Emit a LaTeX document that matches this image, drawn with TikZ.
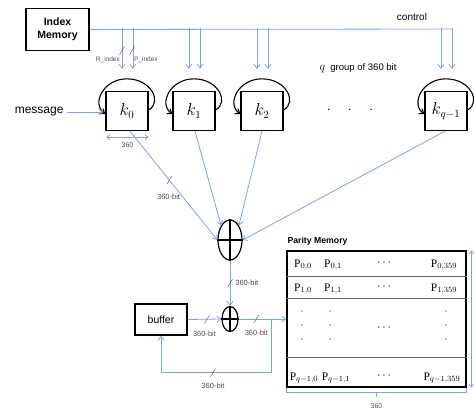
\documentclass[tikz,border=0pt]{standalone}
\usepackage{amsmath}
\usepackage{fontspec}
\setmainfont{Liberation Sans}
\newfontfamily\pfont{Liberation Serif}
\usetikzlibrary{shapes.geometric, arrows.meta, positioning, calc}
\definecolor{lineblue}{RGB}{125,165,220}
\definecolor{lblgray}{RGB}{85,72,92}

\begin{document}
\begin{tikzpicture}[x=1pt, y=-1pt,
  reg/.style={draw, line width=1.3pt, minimum width=42pt, minimum height=39pt, inner sep=0pt, font=\fontsize{16}{16}\selectfont},
  bus/.style={lineblue, thick, -{Straight Barb[length=4pt,width=6pt]}},
  loop/.style={line width=1.1pt, -{Straight Barb[length=4pt,width=6pt]}},
  lbl/.style={lblgray, font=\fontsize{7.5}{8}\selectfont, inner sep=0pt},
  xorgate/.style={draw, ellipse, line width=1.2pt, inner sep=0pt},
  rowline/.style={gray!80!black, line width=0.9pt},
  pcell/.style={font=\fontsize{11.5}{12}\selectfont, inner sep=1pt},
  busmark/.pic={\draw[lblgray, thin, -] (-2.5,4) -- (2.5,-4);}
]
\useasboundingbox (0,0) rectangle (474,412);

% Index memory and control bus
\node[draw, line width=1.3pt, minimum width=63pt, minimum height=42pt, align=center,
  font=\bfseries\fontsize{10.5}{13}\selectfont] (idx) at (57.5,29.5) {Index\\Memory};
\coordinate (ctrlend) at (453,29);
\draw[lineblue, thick] (idx.east) -- (ctrlend);
\node[font=\fontsize{10}{10}\selectfont] at (412,17) {control};

% Registers
\node[reg] (k0) at (127,111) {$k_0$};
\node[reg] (k1) at (194,111) {$k_1$};
\node[reg] (k2) at (262,111) {$k_2$};
\node[reg] (kq) at (446,111) {$k_{q-1}$};
\node[font=\fontsize{14}{14}\selectfont] at (350,110) {$\cdot\quad\cdot\quad\cdot$};
\node[font=\fontsize{9.5}{10}\selectfont] at (358,68) {{\fontsize{13}{13}\selectfont$q$}\ \ group of 360 bit};

\foreach \reg in {k0,k1,k2,kq} {
  \draw[loop] ($(\reg.east)+(0,-1)$) .. controls +(14,-8) and +(24,0) .. ($(\reg.north)+(0,-12)$)
    .. controls +(-24,0) and +(-14,-10) .. ($(\reg.west)+(0,3)$);
  \draw[bus] ($(\reg.north)+(-5,-63)$) -- ($(\reg.north)+(-5,-22)$);
  \draw[bus] ($(\reg.north)+(6,-63)$) -- ($(\reg.north)+(6,-22)$);
}

% index lines
\draw[lblgray] (119.5,55) -- (124.5,46);
\draw[lblgray] (129.5,55) -- (134.5,46);
\node[lbl, font=\fontsize{6.5}{7}\selectfont, anchor=east] at (120,60) {R\_index};
\node[lbl, font=\fontsize{6.5}{7}\selectfont, anchor=west] at (134,60) {P\_index};

% message input
\node[font=\fontsize{12}{12}\selectfont, anchor=east] (msg) at (67,112) {message};
\draw[bus] (msg.east) -- ($(k0.west)+(-2,1)$);

\coordinate (w0) at ($(k0.south west)+(1,6)$);
\coordinate (w1) at ($(k0.south east)+(0,6)$);
\draw[lineblue, thick, {Straight Barb[length=3pt,width=5pt]}-{Straight Barb[length=3pt,width=5pt]}] (w0) -- (w1);
\node[lbl, font=\fontsize{7}{7}\selectfont] at ($(w0)!0.5!(w1)+(0,8)$) {360};

% First XOR
\node[xorgate, minimum width=24pt, minimum height=40pt] (xorA) at (230,240) {};
\draw[line width=1.2pt] (xorA.north) -- (xorA.south) (xorA.west) -- (xorA.east);
\draw[bus] ($(k0.south)+(3,0)$) -- (xorA.west) pic[pos=0.45]{busmark}
  node[lbl, pos=0.6, left=2pt] {360-bit};
\draw[bus] ($(k1.south)+(1,0)$) -- (xorA.north west);
\draw[bus] (k2.south) -- (xorA.north east);
\draw[bus] ($(kq.south)+(-1,0)$) -- (xorA.east);

% Second XOR and buffer
\node[xorgate, minimum width=16pt, minimum height=25pt] (xorB) at (230,319) {};
\draw[line width=1.2pt] (xorB.north) -- (xorB.south) (xorB.west) -- (xorB.east);
\node[draw, line width=1.3pt, minimum width=52pt, minimum height=31pt,
  font=\fontsize{10.5}{11}\selectfont] (buffer) at (161,319.5) {buffer};
\draw[bus] (xorA.south) -- (xorB.north) pic[pos=0.5]{busmark}
  node[lbl, pos=0.5, right=5pt] {360-bit};
\draw[bus] (buffer.east) -- (xorB.west) pic[pos=0.57]{busmark}
  node[lbl, pos=0.5, below=11pt] {360-bit};

% Parity memory
\node[draw, line width=1.3pt, minimum width=179pt, minimum height=136pt, inner sep=0pt] (pm) at (376.5,319) {};
\node[font=\bfseries\fontsize{8.7}{9}\selectfont, anchor=south west, inner sep=0pt] at ($(pm.north west)+(1,-5)$) {Parity Memory};
\draw[bus] (xorB.east) -- (pm.west) pic[pos=0.37]{busmark}
  node[lbl, pos=0.37, below=11pt] {360-bit};
\coordinate (fb) at ($(xorB.east)!0.69!(pm.west)$);
\coordinate (fbcorner) at ($(buffer.south)+(0,37)$);
\draw[bus] (fb) |- (fbcorner) -- (buffer.south);
\path (fbcorner) -- (fb |- fbcorner) pic[pos=0.47]{busmark}
  node[lbl, pos=0.47, below=10pt] {360-bit};

\draw[rowline] ($(pm.north west)+(0,26)$) -- ($(pm.north east)+(0,26)$);
\draw[rowline] ($(pm.north west)+(0,48)$) -- ($(pm.north east)+(0,48)$);
\draw[rowline] ($(pm.north west)+(0,107)$) -- ($(pm.north east)+(0,107)$);

\node[pcell] at (303,265) {{\pfont P}$_{0,0}$};
\node[pcell] at (333,265) {{\pfont P}$_{0,1}$};
\node[pcell] at (385,263) {$\cdots$};
\node[pcell] at (444,265) {{\pfont P}$_{0,359}$};
\node[pcell] at (303,289) {{\pfont P}$_{1,0}$};
\node[pcell] at (333,289) {{\pfont P}$_{1,1}$};
\node[pcell] at (385,287) {$\cdots$};
\node[pcell] at (444,289) {{\pfont P}$_{1,359}$};
\node[pcell] at (385,328) {$\cdots$};
\node[pcell] at (304,378) {{\pfont P}$_{q-1,0}$};
\node[pcell] at (336,378) {{\pfont P}$_{q-1,1}$};
\node[pcell] at (385,376) {$\cdots$};
\node[pcell] at (442,378) {{\pfont P}$_{q-1,359}$};
% vertical dots
\foreach \x in {302,330,446}
  \foreach \y in {311,325,339}
    \fill (\x,\y) circle (0.7pt);

% memory size marks
\draw[lineblue, thick, {Straight Barb[length=3pt,width=5pt]}-{Straight Barb[length=3pt,width=5pt]}]
  ($(pm.north east)+(5,0)$) -- ($(pm.south east)+(5,0)$);
\draw[lineblue, thick] (pm.south west) -- ++(0,5) -| (pm.south east);
\draw[lineblue, thick] ($(pm.south)+(0,5)$) -- ++(0,4);
\node[lbl, font=\fontsize{7}{7}\selectfont] at ($(pm.south)+(0,18)$) {360};
\end{tikzpicture}
\end{document}
